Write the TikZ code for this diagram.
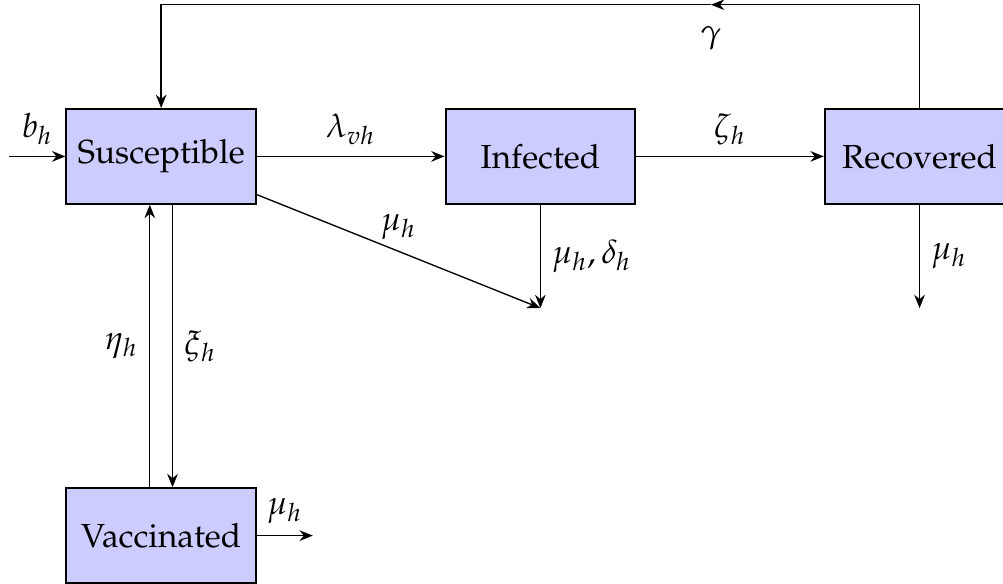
\documentclass[tikz,border=0pt]{standalone}
\usepackage[T1]{fontenc}
\usepackage{mathpazo}
\usepackage{tikz}
\usetikzlibrary{arrows.meta, positioning}
\definecolor{compfill}{RGB}{204,204,255}
\tikzset{
  compbox/.style={draw=black, semithick, fill=compfill, minimum width=2cm,
    minimum height=1cm, inner sep=2pt},
  flow/.style={-{Stealth[length=4pt, width=3.2pt]}, thin},
}
\begin{document}
\begin{tikzpicture}
  \useasboundingbox (-1.7,-4.51) rectangle (8.88,1.65);
  \node[compbox] (S) at (0,0)  {Susceptible};
  \node[compbox] (I) at (4,0)  {Infected};
  \node[compbox] (R) at (8,0)  {Recovered};
  \node[compbox] (V) at (0,-4) {Vaccinated};
  \coordinate (bin) at (-1.6,0);
  \coordinate (gm)  at (5.8,1.6);
  \coordinate (dI)  at (4,-1.6);
  \coordinate (dR)  at (8,-1.6);
  \coordinate (dV)  at (1.6,-4);
  \draw[flow] (bin) -- node[above] {$b_h$} (S);
  \draw[flow] (S) -- node[above] {$\lambda_{vh}$} (I);
  \draw[flow] (I) -- node[above] {$\zeta_h$} (R);
  \draw[flow] (R.north) |- (gm);
  \draw[flow] (gm) -| node[at start, below=3pt] {$\gamma$} (S.north);
  \draw[flow] (S) -- node[above] {$\mu_h$} (dI);
  \draw[flow] (I.south) -- node[right] {$\mu_h, \delta_h$} (dI);
  \draw[flow] (R.south) -- node[right] {$\mu_h$} (dR);
  \draw[flow] ([xshift=-0.12cm]V.north) -- node[left] {$\eta_h$} ([xshift=-0.12cm]S.south);
  \draw[flow] ([xshift=0.12cm]S.south) -- node[right] {$\xi_h$} ([xshift=0.12cm]V.north);
  \draw[flow] (V) -- node[above] {$\mu_h$} (dV);
\end{tikzpicture}
\end{document}
